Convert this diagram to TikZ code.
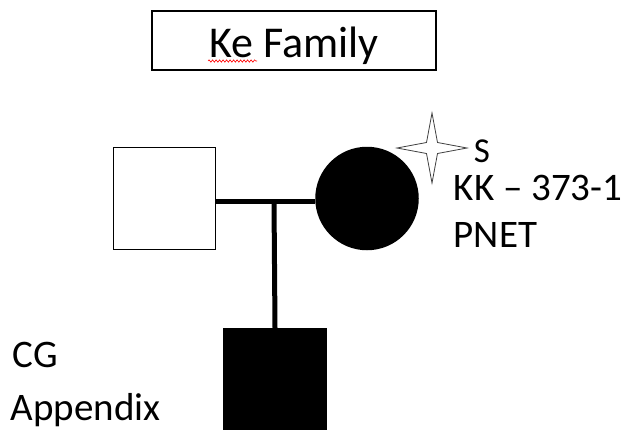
\documentclass[tikz,border=0pt]{standalone}
\usepackage{fontspec}
\setmainfont{Carlito}
\usetikzlibrary{positioning,shapes.geometric,decorations.pathmorphing}

\begin{document}
\begin{tikzpicture}[x=1pt,y=-1pt,line width=1.5pt,
    male/.style={draw,rectangle,minimum size=102pt,inner sep=0pt},
    female/.style={draw,circle,minimum size=102pt,inner sep=0pt},
    affected/.style={fill=black},
    biglbl/.style={anchor=base west,inner sep=0pt,font=\fontsize{39}{47}\selectfont},
    smllbl/.style={anchor=base west,inner sep=0pt,font=\fontsize{35}{42}\selectfont}]
  \useasboundingbox (0,0) rectangle (628,429);
  \node[draw,minimum width=284pt,minimum height=59pt,text height=33pt,text depth=0pt,
    font=\fontsize{44}{52}\selectfont] (title) at (294,40.5) {Ke Family};
  \draw[red,line width=0.6pt,decorate,decoration={snake,amplitude=1.2pt,segment length=3.5pt}] (208,61) -- (257,61);
  \node[male] (father) at (164.5,198.5) {};
  \node[female,affected] (mother) at (367,198.5) {};
  \node[male,affected] (son) at (275,380) {};
  \coordinate (mate) at (274,201.5);
  \draw[line width=5pt] (father.east |- mate) -- (mother.west |- mate);
  \draw[line width=5pt] (mate) -- (son.north);
  % proband mark and labels
  \node[star,star points=4,star point ratio=4.5,minimum size=70pt,draw=black!75,line width=0.8pt,fill=white] (probe) at (432,148) {};
  \node[smllbl] (s) at (473,162) {S};
  \node[biglbl] (id) at (453,200) {KK -- 373-1};
  \node[biglbl] (dx) at (453,247) {PNET};
  \node[biglbl] (cg) at (12,367) {CG};
  \node[biglbl] (app) at (10,420) {Appendix};
\end{tikzpicture}
\end{document}
